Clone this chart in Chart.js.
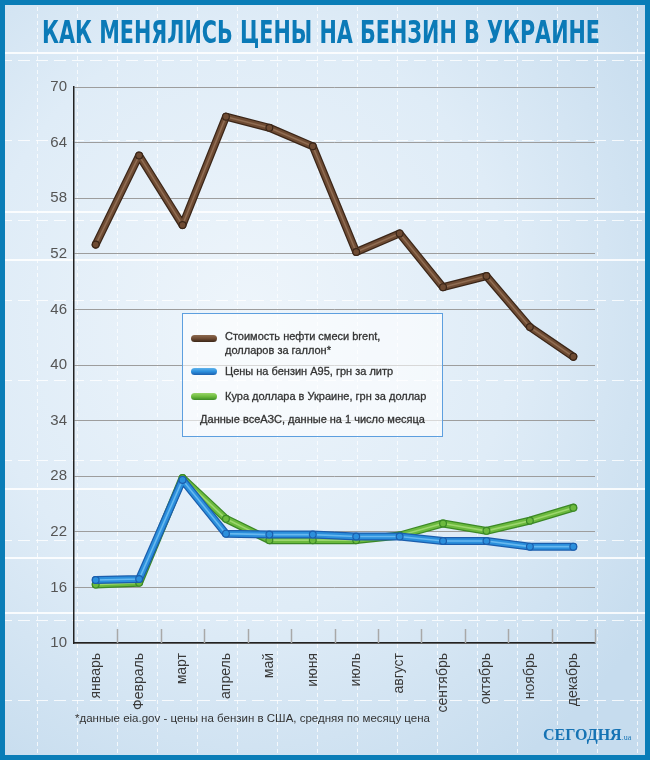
<!DOCTYPE html>
<html>
<head>
<meta charset="utf-8">
<script src="https://cdn.jsdelivr.net/npm/chart.js@4.4.0/dist/chart.umd.min.js"></script>
<style>
  html, body { margin: 0; padding: 0; }
  body { width: 650px; height: 760px; overflow: hidden; font-family: 'Liberation Sans', Arial, sans-serif; }
  #wrap {
    position: relative; width: 650px; height: 760px; overflow: hidden;
    background: radial-gradient(ellipse 75% 70% at 38% 42%, #eef5fb 0%, #dfecf7 55%, #c6dcee 100%);
  }
  .deco { position: absolute; inset: 0; pointer-events: none; }
  #vlines {
    background-image: repeating-linear-gradient(90deg, transparent 0 37px, rgba(255,255,255,.75) 37px 38px, transparent 38px 40px);
    -webkit-mask-image: repeating-linear-gradient(180deg, #000 0 4px, transparent 4px 7px);
    mask-image: repeating-linear-gradient(180deg, #000 0 4px, transparent 4px 7px);
  }
  #hlines {
    background-image: repeating-linear-gradient(180deg, transparent 0 60px, rgba(255,255,255,.8) 60px 61px, transparent 61px 80px);
    -webkit-mask-image: repeating-linear-gradient(90deg, #000 0 12px, transparent 12px 18px);
    mask-image: repeating-linear-gradient(90deg, #000 0 12px, transparent 12px 18px);
  }
  .wl { position: absolute; left: 5px; right: 5px; height: 2px; background: rgba(255,255,255,.85); }
  canvas { position: absolute; left: 0; top: 0; }
  #frame { position: absolute; inset: 0; border: 5px solid #0a7db7; box-sizing: border-box; pointer-events: none; }
  #title {
    position: absolute; top: 13px; left: 0; white-space: nowrap; transform-origin: 0 0;
    font: bold 32px 'Liberation Sans Narrow', 'DejaVu Sans Condensed', 'Liberation Sans', sans-serif;
    color: #0b7ab7;
  }
  #legend {
    position: absolute; left: 182px; top: 313px; width: 261px; height: 124px; box-sizing: border-box;
    border: 1px solid #5d9fdf; background: rgba(255,255,255,.6);
    font-size: 11px; color: #333; -webkit-text-stroke: 0.3px #333;
  }
  .item { position: absolute; left: 8px; }
  .pipe { position: absolute; left: 0; width: 26px; height: 7px; border-radius: 3.5px; }
  .item .txt { position: absolute; left: 34px; line-height: 14px; white-space: nowrap; }
  #note { position: absolute; left: 0; width: 100%; top: 99px; text-align: center; white-space: nowrap; }
  #foot { position: absolute; left: 75px; top: 712px; font-size: 11.5px; color: #333; white-space: nowrap; }
  #logo {
    position: absolute; left: 543px; top: 726px; color: #1673b4; white-space: nowrap;
    font: bold 16px 'Liberation Serif', 'DejaVu Serif', serif;
  }
  #logo small { font-size: 8px; font-weight: normal; }
</style>
</head>
<body>
<div id="wrap">
  <div id="vlines" class="deco"></div>
  <div id="hlines" class="deco"></div>
  <div class="wl" style="top:52px"></div>
  <div class="wl" style="top:211px"></div>
  <div class="wl" style="top:259px"></div>
  <div class="wl" style="top:488px"></div>
  <div class="wl" style="top:557px"></div>
  <div class="wl" style="top:612px"></div>
  <canvas id="chart" width="650" height="760"></canvas>
  <div id="title">КАК МЕНЯЛИСЬ ЦЕНЫ НА БЕНЗИН В УКРАИНЕ</div>
  <div id="legend">
    <div class="item" style="top:18px">
      <div class="pipe" style="top:3px;background:linear-gradient(#8d6a50,#6e4b33 50%,#3b2618);"></div>
      <div class="txt" style="top:-3px">Стоимость нефти смеси brent,<br>долларов за галлон*</div>
    </div>
    <div class="item" style="top:54px">
      <div class="pipe" style="top:0;background:linear-gradient(#5fb3ec,#2c8fdd 50%,#1c5fae);"></div>
      <div class="txt" style="top:-4px">Цены на бензин А95, грн за литр</div>
    </div>
    <div class="item" style="top:79px">
      <div class="pipe" style="top:0;background:linear-gradient(#99d46a,#6dbb3e 50%,#3d8a26);"></div>
      <div class="txt" style="top:-4px">Кура доллара в Украине, грн за доллар</div>
    </div>
    <div id="note">Данные всеАЗС, данные на 1 число месяца</div>
  </div>
  <div id="foot">*данные eia.gov - цены на бензин в США, средняя по месяцу цена</div>
  <div id="logo">СЕГОДНЯ<small>.ua</small></div>
  <div id="frame"></div>
</div>

<script>
// Цены на бензин · data
const months = ['январь', 'Февраль', 'март', 'апрель', 'май', 'июня', 'июль', 'август', 'сентябрь', 'октябрь', 'ноябрь', 'декабрь'];
const brent  = [53.0, 62.6, 55.1, 66.8, 65.6, 63.6, 52.2, 54.2, 48.4, 49.6, 44.1, 40.9];
const a95    = [16.8, 16.9, 27.6, 21.8, 21.7, 21.7, 21.5, 21.5, 21.0, 21.0, 20.4, 20.4];
const usd    = [16.3, 16.5, 27.8, 23.4, 21.1, 21.1, 21.1, 21.6, 22.9, 22.1, 23.2, 24.6];
const yTicks = { min: 10, max: 70, step: 6 };

// fit title to the reference width (42..600)
(function () {
  const t = document.getElementById('title');
  const w = t.getBoundingClientRect().width;
  t.style.left = '42px';
  t.style.transform = 'scaleX(' + (558 / w) + ')';
})();

// tube look: dark outline, body, light stripe
function tube(data, dark, mid, light, order) {
  return [
    { data, borderColor: light, borderWidth: 1.6, pointRadius: 3.4, pointBorderWidth: 1.2,
      pointBackgroundColor: mid, pointBorderColor: dark, order: order },
    { data, borderColor: mid, borderWidth: 5.5, pointRadius: 0, order: order + 1 },
    { data, borderColor: dark, borderWidth: 8, pointRadius: 0, order: order + 2 }
  ];
}

// short tick marks above the x axis between months
const monthTicks = {
  id: 'monthTicks',
  beforeDatasetsDraw(chart) {
    const { ctx, chartArea, scales: { x } } = chart;
    const step = x.width / months.length;
    ctx.save();
    ctx.strokeStyle = '#a8a8a8';
    ctx.lineWidth = 1.5;
    for (let i = 1; i <= months.length; i++) {
      const px = Math.round(x.left + i * step) + 0.5;
      ctx.beginPath();
      ctx.moveTo(px, chartArea.bottom - 14);
      ctx.lineTo(px, chartArea.bottom);
      ctx.stroke();
    }
    ctx.restore();
  }
};

function initChart() {
  Chart.defaults.font.family = "'Liberation Sans', Arial, sans-serif";

  new Chart(document.getElementById('chart'), {
    type: 'line',
    data: {
      labels: months,
      datasets: [
        ...tube(brent, '#3b2618', '#6e4b33', '#8f6c52', 0),
        ...tube(a95, '#1b5ead', '#2b8fdc', '#66b8ef', 3),
        ...tube(usd, '#3c8926', '#6cba3e', '#9cd66d', 6)
      ]
    },
    options: {
      responsive: false,
      animation: false,
      layout: { padding: { top: 87, right: 55, bottom: 0, left: 0 } },
      elements: { line: { tension: 0, borderCapStyle: 'round', borderJoinStyle: 'round' } },
      plugins: { legend: { display: false }, tooltip: { enabled: false } },
      scales: {
        x: {
          offset: true,
          grid: { drawOnChartArea: false, drawTicks: false },
          border: { display: true, color: '#222', width: 1.5 },
          ticks: { minRotation: 90, maxRotation: 90, padding: 10, color: '#3a3a3a', font: { size: 14 } },
          afterFit: s => { s.height = 117; }
        },
        y: {
          min: yTicks.min,
          max: yTicks.max,
          ticks: { stepSize: yTicks.step, padding: 7, color: '#555', font: { size: 15 } },
          grid: { color: '#9d9d9d', lineWidth: 1, drawTicks: false },
          border: { display: true, color: '#222', width: 1.5 },
          afterFit: s => { s.width = 74; }
        }
      }
    },
    plugins: [monthTicks]
  });
}

initChart();
</script>
</body>
</html>
